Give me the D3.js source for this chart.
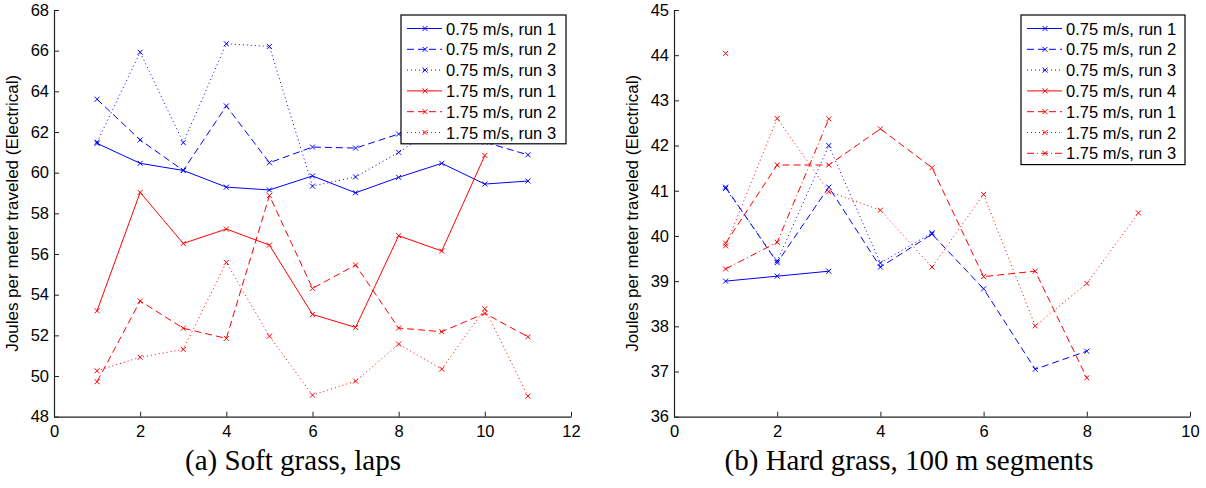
<!DOCTYPE html>
<html>
<head>
    <meta charset="utf-8">
    <title>Joules per meter traveled</title>
    <style>
        body { margin: 0; background: #fff; }
        svg { display: block; }
        .tick text { font-family: "Liberation Sans", Arial, sans-serif; font-size: 16.5px; fill: #000; }
        .axis path, .axis line { stroke: #222; }
    </style>
</head>
<body>
    <script src="https://d3js.org/d3.v7.min.js"></script>
    <script>
        // (a) soft grass, laps 1..11
        var softLabels = ["0.75 m/s, run 1", "0.75 m/s, run 2", "0.75 m/s, run 3",
                          "1.75 m/s, run 1", "1.75 m/s, run 2", "1.75 m/s, run 3"];
        var soft075run1 = [61.44, 60.46, 60.11, 59.29, 59.15, 59.84, 59.01, 59.77, 60.46, 59.44, 59.59];
        var soft075run2 = [63.61, 61.61, 60.11, 63.28, 60.49, 61.26, 61.21, 61.9, 62.1, 61.5, 60.88];
        var soft075run3 = [61.5, 65.92, 61.48, 66.34, 66.21, 59.34, 59.79, 61.0, 62.4, 62.8];
        var soft175run1 = [53.21, 59.03, 56.52, 57.23, 56.44, 53.03, 52.39, 56.9, 56.15, 60.85];
        var soft175run2 = [49.72, 53.69, 52.35, 51.85, 58.87, 54.31, 55.46, 52.36, 52.18, 53.08, 51.93];
        var soft175run3 = [50.26, 50.92, 51.31, 55.59, 51.96, 49.06, 49.75, 51.57, 50.34, 53.31, 49.01];

        // (b) hard grass, 100 m segments 1..n
        var hardLabels = ["0.75 m/s, run 1", "0.75 m/s, run 2", "0.75 m/s, run 3", "0.75 m/s, run 4",
                          "1.75 m/s, run 1", "1.75 m/s, run 2", "1.75 m/s, run 3"];
        var hard075run1 = [39.0, 39.11, 39.22];
        var hard075run2 = [41.08, 39.41, 41.08, 39.31, 40.04, 38.83, 37.05, 37.45];
        var hard075run3 = [41.05, 39.45, 42.0, 39.4, 40.07];
        var hard075run4 = [44.04];
        var hard175run1 = [39.84, 41.57, 41.57, 42.37, 41.51, 39.1, 39.22, 36.86];
        var hard175run2 = [39.78, 42.6, 40.98, 40.57, 39.31, 40.92, 38.01, 38.95, 40.51];
        var hard175run3 = [39.27, 39.86, 42.59];

        var softXTicks = [0, 2, 4, 6, 8, 10, 12];
        var softYTicks = [48, 50, 52, 54, 56, 58, 60, 62, 64, 66, 68];
        var hardXTicks = [0, 2, 4, 6, 8, 10];
        var hardYTicks = [36, 37, 38, 39, 40, 41, 42, 43, 44, 45];

        var blue = "#0000ff", red = "#ff0000";
        var solid = null, dashed = "7,4", dotted = "1,3", dashdot = "7,3,1,3";

        var svg = d3.select("body").append("svg")
            .attr("width", 1206)
            .attr("height", 488);

        function drawPanel(opt) {
            var x = d3.scaleLinear().domain(opt.xDomain).range([opt.left, opt.right]);
            var y = d3.scaleLinear().domain(opt.yDomain).range([opt.bottom, opt.top]);
            var g = svg.append("g");

            // MATLAB style: ticks point inwards
            g.append("g")
                .attr("class", "axis")
                .attr("transform", "translate(0," + opt.bottom + ")")
                .call(d3.axisBottom(x).tickValues(opt.xTicks).tickSizeInner(-5).tickSizeOuter(0).tickPadding(9))
                .call(a => a.select(".domain").attr("stroke-width", 1.2));
            g.append("g")
                .attr("class", "axis")
                .attr("transform", "translate(" + opt.left + ",0)")
                .call(d3.axisLeft(y).tickValues(opt.yTicks).tickSizeInner(-5).tickSizeOuter(0).tickPadding(5))
                .call(a => a.select(".domain").attr("stroke-width", 1.2));

            g.append("text")
                .attr("transform", "translate(" + opt.labelX + "," + ((opt.top + opt.bottom) / 2) + ") rotate(-90)")
                .attr("text-anchor", "middle")
                .style("font-family", "Liberation Sans, Arial, sans-serif")
                .style("font-size", "17px")
                .text("Joules per meter traveled (Electrical)");

            var line = d3.line()
                .x(function(d, i) { return x(i + 1); })
                .y(function(d) { return y(d); });

            opt.series.forEach(function(s) {
                var sg = g.append("g");
                sg.append("path")
                    .datum(s.values)
                    .attr("d", line)
                    .attr("fill", "none")
                    .attr("stroke", s.color)
                    .attr("stroke-width", 1)
                    .attr("stroke-dasharray", s.dash);
                sg.selectAll(".mk")
                    .data(s.values)
                    .enter().append("path")
                    .attr("d", "M-2.5,-2.5L2.5,2.5M-2.5,2.5L2.5,-2.5")
                    .attr("transform", function(d, i) { return "translate(" + x(i + 1) + "," + y(d) + ")"; })
                    .attr("stroke", s.color)
                    .attr("stroke-width", 1);
            });

            // legend
            var lg = g.append("g");
            var rowH = 20.8;
            lg.append("rect")
                .attr("x", opt.legX).attr("y", 15)
                .attr("width", opt.legW).attr("height", opt.series.length * rowH + 4)
                .attr("fill", "#fff").attr("stroke", "#000").attr("stroke-width", 1.2);
            opt.series.forEach(function(s, i) {
                var cy = 28.5 + i * rowH;
                lg.append("line")
                    .attr("x1", opt.legX + 6).attr("x2", opt.legX + 41)
                    .attr("y1", cy).attr("y2", cy)
                    .attr("stroke", s.color).attr("stroke-dasharray", s.dash);
                lg.append("path")
                    .attr("d", "M-2.5,-2.5L2.5,2.5M-2.5,2.5L2.5,-2.5")
                    .attr("transform", "translate(" + (opt.legX + 24) + "," + cy + ")")
                    .attr("stroke", s.color);
                lg.append("text")
                    .attr("x", opt.legX + 45).attr("y", cy + 6)
                    .style("font-family", "Liberation Sans, Arial, sans-serif")
                    .style("font-size", "16.5px")
                    .text(s.label);
            });

            svg.append("text")
                .attr("x", opt.captionX).attr("y", 470)
                .attr("text-anchor", "middle")
                .style("font-family", "Liberation Serif, Times New Roman, serif")
                .style("font-size", "29px")
                .text(opt.caption);
        }

        drawPanel({
            left: 54, right: 571, top: 10, bottom: 416.7,
            xDomain: [0, 12], yDomain: [48, 68],
            xTicks: softXTicks, yTicks: softYTicks,
            labelX: 18, legX: 401, legW: 165,
            captionX: 293,
            caption: "(a) Soft grass, laps",
            series: [
                {values: soft075run1, color: blue, dash: solid, label: softLabels[0]},
                {values: soft075run2, color: blue, dash: dashed, label: softLabels[1]},
                {values: soft075run3, color: blue, dash: dotted, label: softLabels[2]},
                {values: soft175run1, color: red, dash: solid, label: softLabels[3]},
                {values: soft175run2, color: red, dash: dashed, label: softLabels[4]},
                {values: soft175run3, color: red, dash: dotted, label: softLabels[5]}
            ]
        });

        drawPanel({
            left: 674, right: 1190, top: 10, bottom: 416.7,
            xDomain: [0, 10], yDomain: [36, 45],
            xTicks: hardXTicks, yTicks: hardYTicks,
            labelX: 638, legX: 1021, legW: 164,
            captionX: 909,
            caption: "(b) Hard grass, 100 m segments",
            series: [
                {values: hard075run1, color: blue, dash: solid, label: hardLabels[0]},
                {values: hard075run2, color: blue, dash: dashed, label: hardLabels[1]},
                {values: hard075run3, color: blue, dash: dotted, label: hardLabels[2]},
                {values: hard075run4, color: red, dash: solid, label: hardLabels[3]},
                {values: hard175run1, color: red, dash: dashed, label: hardLabels[4]},
                {values: hard175run2, color: red, dash: dotted, label: hardLabels[5]},
                {values: hard175run3, color: red, dash: dashdot, label: hardLabels[6]}
            ]
        });
    </script>
</body>
</html>
